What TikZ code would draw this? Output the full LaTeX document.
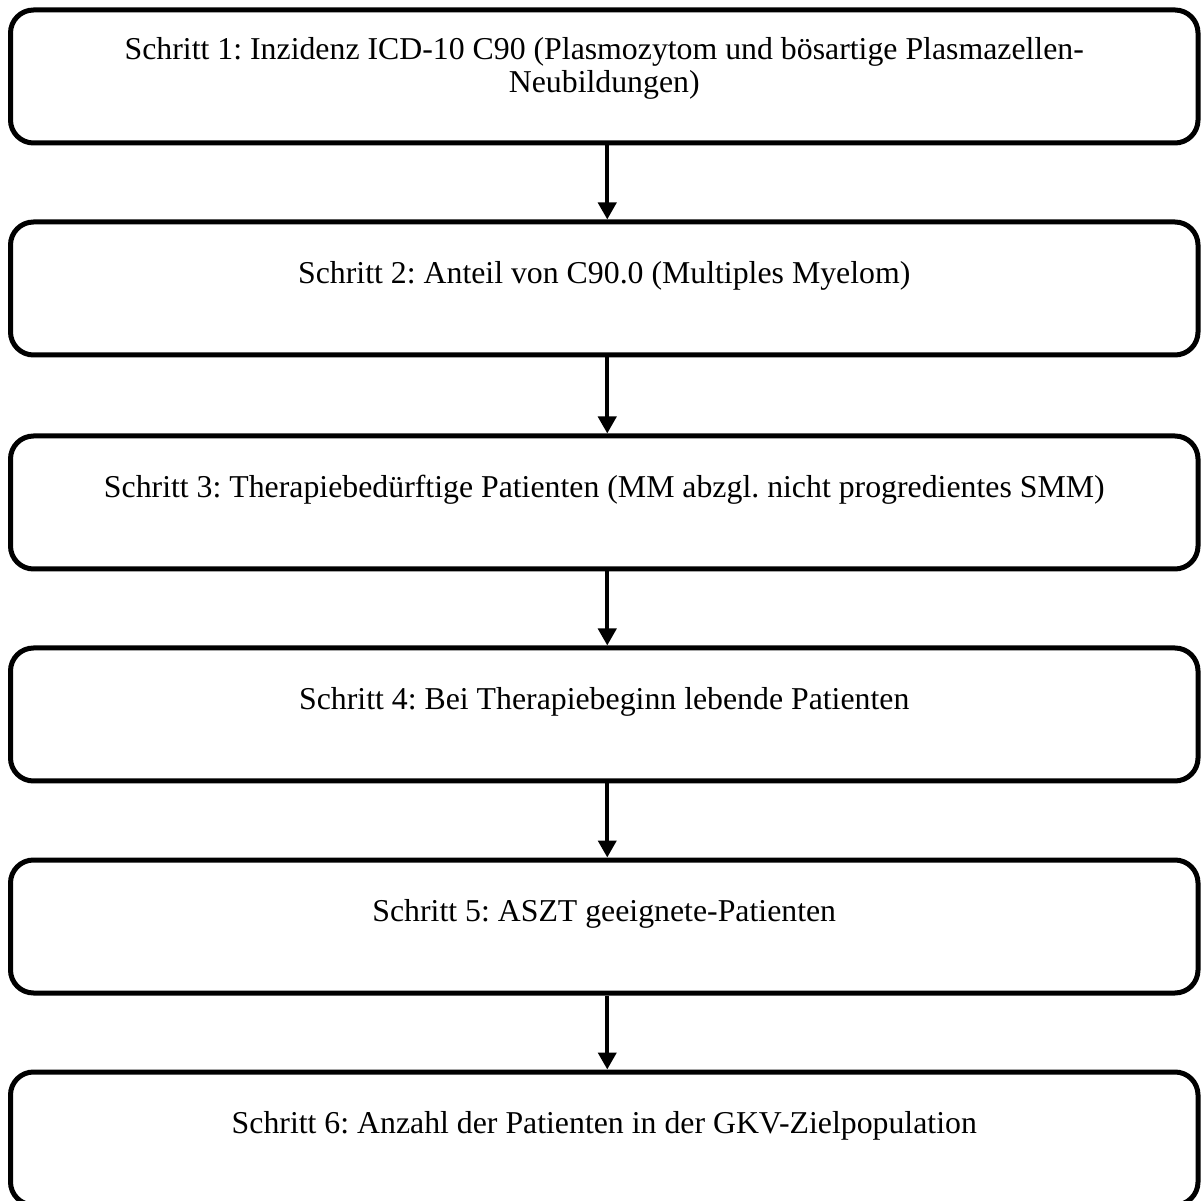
\documentclass[tikz,border=0pt]{standalone}
\usepackage{fontspec}
\setmainfont{Liberation Serif}
\frenchspacing
\usetikzlibrary{arrows.meta}
\begin{document}
\begin{tikzpicture}[x=1pt,y=1pt,
  stepbox/.style={draw=black,line width=5pt,rounded corners=23pt,minimum width=1187.5pt,minimum height=133pt,inner sep=0pt},
  steptext/.style={font=\fontsize{31.8}{33}\selectfont,align=center,inner sep=0pt},
  flow/.style={line width=4pt,-{Triangle[length=17pt,width=18pt]}}]
\useasboundingbox (0,0) rectangle (1201,1200);
\node[stepbox] (b1) at (604.25,1123.5) {};
\node[stepbox] (b2) at (604.25,911.5) {};
\node[stepbox] (b3) at (604.25,697.5) {};
\node[stepbox] (b4) at (604.25,485.5) {};
\node[stepbox] (b5) at (604.25,273.5) {};
\node[stepbox] (b6) at (604.25,61.5) {};
\node[steptext] (t1) at ([yshift=-61pt]b1.north) {Schritt 1: Inzidenz ICD-10 C90 (Plasmozytom und bösartige Plasmazellen-\\Neubildungen)};
\node[steptext] (t2) at ([yshift=-56pt]b2.north) {Schritt 2: Anteil von C90.0 (Multiples Myelom)};
\node[steptext] (t3) at ([yshift=-56pt]b3.north) {Schritt 3: Therapiebedürftige Patienten (MM abzgl. nicht progredientes SMM)};
\node[steptext] (t4) at ([yshift=-56pt]b4.north) {Schritt 4: Bei Therapiebeginn lebende Patienten};
\node[steptext] (t5) at ([yshift=-56pt]b5.north) {Schritt 5: ASZT geeignete-Patienten};
\node[steptext] (t6) at ([yshift=-56pt]b6.north) {Schritt 6: Anzahl der Patienten in der GKV-Zielpopulation};
\draw[flow] ([xshift=3pt]b1.south) -- ([xshift=3pt]b2.north);
\draw[flow] ([xshift=3pt]b2.south) -- ([xshift=3pt]b3.north);
\draw[flow] ([xshift=3pt]b3.south) -- ([xshift=3pt]b4.north);
\draw[flow] ([xshift=3pt]b4.south) -- ([xshift=3pt]b5.north);
\draw[flow] ([xshift=3pt]b5.south) -- ([xshift=3pt]b6.north);
\end{tikzpicture}
\end{document}
